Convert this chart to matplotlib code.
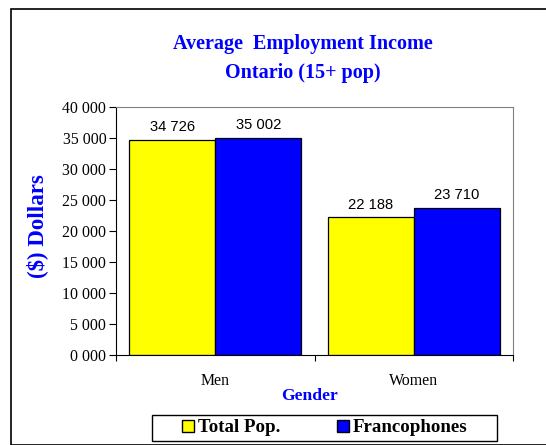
import matplotlib
matplotlib.use("Agg")
import matplotlib.pyplot as plt
import numpy as np
from matplotlib.patches import Rectangle, Patch

categories = ["Men", "Women"]
series_names = ["Total Pop.", "Francophones"]
total_pop = [34726, 22188]
francophones = [35002, 23710]
yticks = [0, 5000, 10000, 15000, 20000, 25000, 30000, 35000, 40000]

def fmt(v):
    return f"{int(v):,}".replace(",", " ")

def fmt_tick(v):
    v = int(v)
    return f"{v // 1000} {v % 1000:03d}"

plt.rcParams['font.family'] = ['Liberation Serif', 'DejaVu Serif']

fig = plt.figure(figsize=(5.46, 4.45), dpi=100)
W, H = 546, 445
# outer border
fig.patches.append(Rectangle((11 / W, 0), 1, 1 - 9 / H, transform=fig.transFigure,
                             fill=False, edgecolor='black', linewidth=1.2))

ax = fig.add_axes([116 / W, 1 - 355 / H, (513 - 116) / W, (355 - 107) / H])
x = np.arange(len(categories))
bw = 0.433
b1 = ax.bar(x - bw / 2, total_pop, bw, color='#FFFF00', edgecolor='black', linewidth=0.9, label=series_names[0])
b2 = ax.bar(x + bw / 2, francophones, bw, color='#0000FF', edgecolor='black', linewidth=0.9, label=series_names[1])
for bars, vals in ((b1, total_pop), (b2, francophones)):
    for r, v in zip(bars, vals):
        ax.text(r.get_x() + r.get_width() / 2, v + 900, fmt(v), ha='center', va='bottom',
                fontsize=10.6, family='Liberation Sans')

ax.set_xlim(-0.5, 1.5)
ax.set_ylim(0, 40000)
ax.set_yticks(yticks)
ax.set_yticklabels([fmt_tick(t) for t in yticks], fontsize=11.4)
ax.set_xticks([-0.5, 0.5, 1.5])
ax.set_xticklabels([])
ax.set_xticks([0, 1], minor=True)
ax.set_xticklabels(categories, minor=True, fontsize=11.4)
ax.tick_params(axis='x', which='minor', length=0, pad=13)
ax.tick_params(axis='x', which='major', length=4, direction='out', width=0.8)
ax.tick_params(axis='y', length=5, direction='out', width=0.8, pad=2)
for s in ('top', 'right'):
    ax.spines[s].set_color('#808080')
for s in ('left', 'bottom'):
    ax.spines[s].set_color('black')

fig.text(303 / W, 1 - 44 / H, "Average  Employment Income", ha='center', va='center',
         color='#0000FF', fontsize=14.5, fontweight='bold')
fig.text(303 / W, 1 - 73 / H, "Ontario (15+ pop)", ha='center', va='center',
         color='#0000FF', fontsize=14.5, fontweight='bold')
fig.text(37 / W, 1 - 226 / H, "($) Dollars", ha='center', va='center', rotation=90,
         color='#0000FF', fontsize=16.5, fontweight='bold')
fig.text(309 / W, 1 - 396 / H, "Gender", ha='center', va='center',
         color='#0000FF', fontsize=12.6, fontweight='bold')

handles = [Patch(facecolor='#FFFF00', edgecolor='black'), Patch(facecolor='#0000FF', edgecolor='black')]
leg = fig.legend(handles, series_names, loc='center', bbox_to_anchor=(325 / W, 1 - 428 / H),
                 ncol=2, frameon=False,
                 prop={'family': 'Liberation Serif', 'weight': 'bold', 'size': 13.6},
                 handlelength=0.65, handleheight=0.65, handletextpad=0.2, columnspacing=3.0,
                 borderpad=0, borderaxespad=0)
fig.patches.append(Rectangle((152 / W, 1 - 441 / H), (497 - 152) / W, 26 / H,
                             transform=fig.transFigure, fill=False, edgecolor='black', linewidth=1.0))

fig.savefig("out.png", dpi=100)
